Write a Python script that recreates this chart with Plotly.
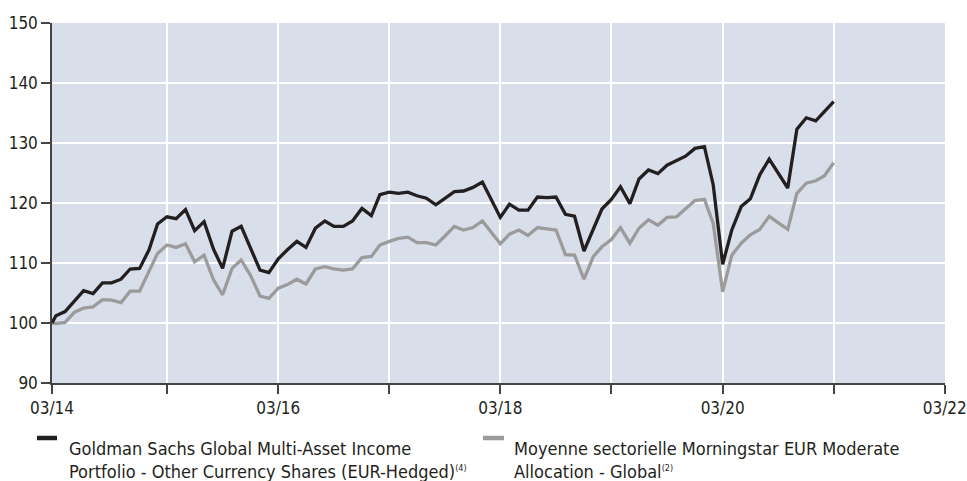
import pandas as pd
import plotly.graph_objects as go

# ---- data ----
inception_date = "2014-03-18"
month_ends = [d.strftime("%Y-%m-%d") for d in pd.date_range("2014-03-31", "2021-03-31", freq="ME")]
dates = [inception_date] + month_ends

SUP = "<sup><span style='font-size:9px'>{}</span></sup>"
fund_name = "Goldman Sachs Global Multi-Asset Income<br>Portfolio - Other Currency Shares (EUR-Hedged)" + SUP.format("(4)")
peer_name = "Moyenne sectorielle Morningstar EUR Moderate<br>Allocation - Global" + SUP.format("(2)")

fund_values = [
    100.0,
    101.2, 101.9, 103.6, 105.4, 104.9, 106.7, 106.7, 107.3, 109.0, 109.1, 112.2, 116.5,
    117.7, 117.4, 118.9, 115.4, 116.9, 112.3, 109.1, 115.3, 116.1, 112.5, 108.8, 108.4,
    110.7, 112.2, 113.6, 112.6, 115.8, 117.0, 116.1, 116.1, 117.0, 119.1, 117.9, 121.4,
    121.8, 121.6, 121.8, 121.2, 120.8, 119.7, 120.8, 121.9, 122.0, 122.6, 123.5, 120.6,
    117.6, 119.8, 118.8, 118.8, 121.0, 120.9, 121.0, 118.1, 117.8, 112.0, 115.8, 119.0,
    120.6, 122.7, 119.9, 124.0, 125.5, 124.9, 126.3, 127.0, 127.8, 129.1, 129.4, 123.0,
    109.8, 115.5, 119.4, 120.7, 124.7, 127.3, 124.9, 122.5, 132.3, 134.2, 133.7, 135.2,
    136.9,
]
peer_values = [
    100.0,
    99.9, 100.1, 101.8, 102.5, 102.7, 103.9, 103.8, 103.4, 105.3, 105.3, 108.5, 111.6,
    113.0, 112.6, 113.2, 110.2, 111.3, 107.2, 104.7, 109.1, 110.5, 107.9, 104.5, 104.1,
    105.8, 106.4, 107.3, 106.5, 109.0, 109.4, 109.0, 108.8, 109.0, 110.9, 111.1, 113.0,
    113.6, 114.1, 114.3, 113.4, 113.4, 113.0, 114.5, 116.1, 115.5, 115.9, 117.0, 115.1,
    113.2, 114.8, 115.5, 114.6, 115.9, 115.7, 115.5, 111.4, 111.3, 107.3, 111.1, 112.7,
    113.9, 115.9, 113.3, 115.8, 117.2, 116.3, 117.6, 117.7, 119.1, 120.4, 120.6, 116.6,
    105.2, 111.3, 113.3, 114.7, 115.6, 117.8, 116.7, 115.6, 121.6, 123.3, 123.7, 124.5,
    126.7,
]

x_tickvals = ["2014-03-18", "2016-03-31", "2018-03-31", "2020-03-31", "2022-03-31"]
x_ticktext = ["03/14", "03/16", "03/18", "03/20", "03/22"]
x_minorvals = ["2015-03-31", "2017-03-31", "2019-03-31", "2021-03-31"]
y_tickvals = [90, 100, 110, 120, 130, 140, 150]

FUND_COLOR = "#231f20"
PEER_COLOR = "#9b9b9b"
FONT = "DejaVu Sans Condensed, Liberation Sans Narrow, Arial Narrow, sans-serif"

fig = go.Figure()
fig.add_trace(go.Scatter(x=dates, y=peer_values, mode="lines", name=peer_name,
                         line=dict(color=PEER_COLOR, width=3.3)))
fig.add_trace(go.Scatter(x=dates, y=fund_values, mode="lines", name=fund_name,
                         line=dict(color=FUND_COLOR, width=3.3)))

fig.update_layout(
    width=967, height=481,
    margin=dict(l=52, r=22, t=23, b=98),
    paper_bgcolor="white",
    plot_bgcolor="#d9dfea",
    showlegend=False,
    font=dict(family=FONT, size=17, color="#231f20"),
)
fig.update_xaxes(
    type="date", range=["2014-03-18", "2022-04-01"], automargin=False,
    tickmode="array", tickvals=x_tickvals, ticktext=x_ticktext,
    ticks="outside", ticklen=9, tickwidth=1.5, tickcolor="#444444",
    showline=True, linecolor="#444444", linewidth=1.5,
    showgrid=True, gridcolor="white", gridwidth=1.5,
    minor=dict(tickmode="array", tickvals=x_minorvals, ticks="outside", ticklen=9,
               tickwidth=1.5, tickcolor="#444444", showgrid=True,
               gridcolor="white", gridwidth=1.5),
    zeroline=False, tickfont=dict(size=17),
)
fig.update_yaxes(
    range=[90, 150], tickmode="array", tickvals=y_tickvals, automargin=False,
    ticks="outside", ticklen=9, tickwidth=1.5, tickcolor="#444444",
    showline=True, linecolor="#444444", linewidth=1.5,
    showgrid=True, gridcolor="white", gridwidth=1.5,
    zeroline=False, tickfont=dict(size=17),
)

# manual legend below the plot
legend_items = [(fund_name, FUND_COLOR, -0.0168, 0.0056, 0.0168),
                (peer_name, PEER_COLOR, 0.4826, 0.5062, 0.515)]
for name, color, sx0, sx1, tx in legend_items:
    fig.add_shape(type="line", xref="paper", yref="paper",
                  x0=sx0, x1=sx1, y0=-0.1528, y1=-0.1528,
                  line=dict(color=color, width=4.5))
    fig.add_annotation(xref="paper", yref="paper", x=tx, y=-0.147,
                       xanchor="left", yanchor="top", align="left",
                       showarrow=False, text=name,
                       font=dict(family=FONT, size=18, color="#231f20"))

fig.write_html("out.html", config={"displayModeBar": False},
               post_script="document.body.style.margin='0';")
